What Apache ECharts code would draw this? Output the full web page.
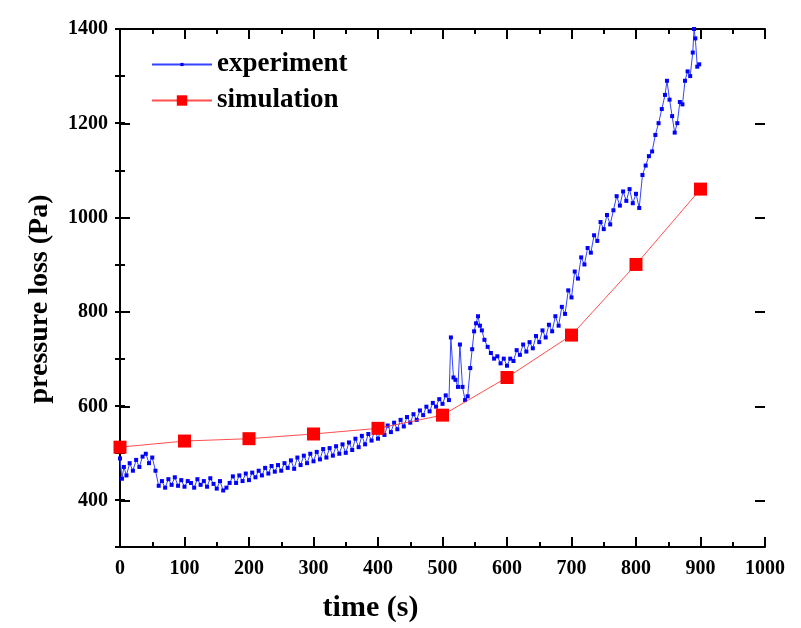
<!DOCTYPE html>
<html>
<head>
<meta charset="utf-8">
<script src="https://cdn.jsdelivr.net/npm/echarts@6/dist/echarts.min.js"></script>
<style>html,body{margin:0;padding:0;background:#fff}#c{width:801px;height:628px}</style>
</head>
<body>
<div id="c"></div>
<script>
// ---- data ----
const expTime = [0,3,6,10,15,20,25,30,35,40,45,50,55,60,65,70,75,80,85,90,95,100,105,110,115,120,125,130,135,140,145,150,155,160,165,170,175,180,185,190,195,200,205,210,215,220,225,230,235,240,245,250,255,260,265,270,275,280,285,290,295,300,305,310,315,320,325,330,335,340,345,350,355,360,365,370,375,380,385,390,395,400,405,410,415,420,425,430,435,440,445,450,455,460,465,470,475,480,485,490,495,500,505,510,513,517,520,524,527,531,535,539,543,546,549,552,555,558,561,565,570,575,580,585,590,595,600,605,610,615,620,625,630,635,640,645,650,655,660,665,670,675,680,685,690,695,700,705,710,715,720,725,730,735,740,745,750,755,760,765,770,775,780,785,790,795,800,805,810,815,820,825,830,835,840,845,848,852,856,860,864,868,872,876,880,884,888,890,892,895,898];
const expValue = [488,445,470,452,478,462,485,470,492,498,478,490,462,
  430,440,426,444,432,448,430,442,428,440,436,426,444,432,440,428,446,434,424,440,420,426,436,450,
  436,452,440,456,442,458,448,462,452,468,456,472,460,474,462,478,468,484,466,490,474,494,478,498,482,502,486,508,490,510,494,514,498,518,500,522,506,530,512,536,518,540,526,548,530,552,538,558,544,564,550,570,556,576,564,582,570,590,580,598,588,606,598,614,604,
  622,612,745,660,655,640,730,640,612,620,680,720,758,775,790,770,760,740,725,
  712,700,705,690,700,685,700,695,718,708,730,715,735,722,748,735,760,745,772,758,790,770,810,795,845,830,
  885,870,915,900,935,925,962,950,990,975,1005,985,1015,1045,1025,1055,1035,1060,1030,1050,1020,
  1090,1110,1130,1140,1175,1200,1230,1260,1290,1250,1215,1180,1200,1245,1240,1290,1310,1300,1350,1400,1380,1320,1325];
const simTime = [0,100,200,300,400,500,600,700,800,900];
const simValue = [512,525,530,540,552,580,660,750,900,1060];
const seriesNames = ['experiment','simulation'];
const xTitle = 'time (s)';
const yTitle = 'pressure loss (Pa)';

const FONT = "'Times New Roman','Liberation Serif',serif";
const chart = echarts.init(document.getElementById('c'));
const lineAxis = {lineStyle:{color:'#000',width:2}};
const plain = v => String(v);
const legendText = {fontFamily:FONT,fontWeight:'bold',fontSize:27,color:'#000'};
chart.setOption({
  animation:false,
  backgroundColor:'#fff',
  legend:[
    {orient:'vertical', left:146, top:46, itemWidth:60, itemHeight:4, textStyle:legendText, data:[seriesNames[0]]},
    {orient:'vertical', left:146, top:82, itemWidth:60, itemHeight:13, textStyle:legendText, data:[seriesNames[1]]}
  ],
  grid:[
    {left:120, top:29, width:645, height:519},
    {left:120, top:29, width:645, height:472}
  ],
  xAxis:[
    {type:'value', gridIndex:0, min:0, max:1000, interval:100, position:'bottom',
     name:xTitle, nameLocation:'middle', nameGap:46,
     nameTextStyle:{fontFamily:FONT,fontWeight:'bold',fontSize:30,color:'#000',padding:[0,144,0,0]},
     axisLine:lineAxis, axisTick:{inside:true,length:10,lineStyle:{width:2,color:'#000'}},
     minorTick:{show:true,splitNumber:2,length:5,lineStyle:{width:2,color:'#000'}},
     splitLine:{show:false},
     axisLabel:{fontFamily:FONT,fontWeight:'bold',fontSize:20,color:'#000',margin:12,formatter:plain}},
    {type:'value', gridIndex:0, min:0, max:1000, interval:100, position:'top',
     axisLine:lineAxis, axisTick:{inside:true,length:10,lineStyle:{width:2,color:'#000'}},
     minorTick:{show:true,splitNumber:2,length:5,lineStyle:{width:2,color:'#000'}},
     splitLine:{show:false}, axisLabel:{show:false}},
    {type:'value', gridIndex:1, min:0, max:1000, show:false}
  ],
  yAxis:[
    {type:'value', gridIndex:0, min:300, max:1400, interval:100, position:'left',
     name:yTitle, nameLocation:'middle', nameGap:66, nameRotate:90,
     nameTextStyle:{fontFamily:FONT,fontWeight:'bold',fontSize:28,color:'#000',padding:[0,22,0,0]},
     axisLine:lineAxis, axisTick:{inside:true,length:5,lineStyle:{width:2,color:'#000'}},
     splitLine:{show:false}, axisLabel:{show:false}},
    {type:'value', gridIndex:0, min:300, max:1400, interval:100, position:'right',
     axisLine:lineAxis, axisTick:{inside:true,length:5,lineStyle:{width:2,color:'#000'}},
     splitLine:{show:false}, axisLabel:{show:false}},
    {type:'value', gridIndex:1, min:400, max:1400, interval:200, position:'left',
     axisLine:{show:false}, axisTick:{inside:true,length:10,lineStyle:{width:2,color:'#000'}},
     splitLine:{show:false},
     axisLabel:{fontFamily:FONT,fontWeight:'bold',fontSize:20,color:'#000',margin:12,formatter:plain}},
    {type:'value', gridIndex:1, min:400, max:1400, interval:200, position:'right',
     axisLine:{show:false}, axisTick:{inside:true,length:10,lineStyle:{width:2,color:'#000'}},
     splitLine:{show:false}, axisLabel:{show:false}}
  ],
  series:[
    {name:seriesNames[0], type:'line', xAxisIndex:0, yAxisIndex:0,
     data:expTime.map((t,i)=>[t,expValue[i]]),
     symbol:'rect', symbolSize:4, showSymbol:true,
     lineStyle:{color:'#3344ff',width:1}, itemStyle:{color:'#0000ff'}, color:'#0000ff', z:3},
    {name:seriesNames[1], type:'line', xAxisIndex:0, yAxisIndex:0,
     data:simTime.map((t,i)=>[t,simValue[i]]),
     symbol:'rect', symbolSize:13,
     lineStyle:{color:'#ff3030',width:1,opacity:0.85}, itemStyle:{color:'#ff0000'}, color:'#ff0000', z:4}
  ]
});
</script>
</body>
</html>
